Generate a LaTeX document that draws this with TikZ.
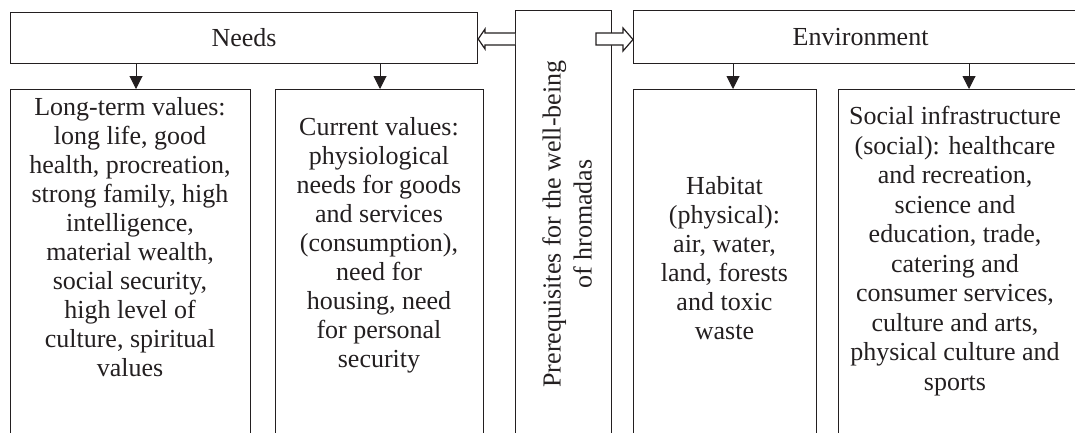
\documentclass[tikz,border=0pt]{standalone}
\usepackage{fontspec}
\setmainfont{Liberation Serif}
\usetikzlibrary{arrows.meta,calc}
\definecolor{ink}{HTML}{231F20}
\begin{document}
\begin{tikzpicture}[x=1pt,y=-1pt,
  box/.style={draw=ink, line width=1.2pt, rectangle, inner sep=0pt, anchor=north west},
  txt/.style={text=ink, align=center, font=\fontsize{26}{29}\selectfont, inner sep=0pt},
  darr/.style={draw=ink, line width=1pt, -{Triangle[length=13pt,width=13pt]}},
  hollow/.style={draw=ink, line width=1.2pt, fill=white, line join=miter}]
\useasboundingbox (0,0) rectangle (1075,432);
\clip (0,0) rectangle (1075,432);

% top boxes
\node[box, minimum width=467pt, minimum height=51pt] (needs) at (10,12) {};
\node[txt] (needst) at (needs.center) {Needs};
\node[box, minimum width=454pt, minimum height=53pt] (env) at (633,10) {};
\node[txt] (envt) at (env.center) {Environment};

% middle box
\node[box, minimum width=96pt, minimum height=440pt] (mid) at (515,10) {};
\node[txt, rotate=90, font=\fontsize{26}{31}\selectfont] (midt) at (567,224) {Prerequisites for the well-being\\of hromadas};

% lower boxes
\node[box, minimum width=240pt, minimum height=360pt] (lt) at (10,89) {};
\node[box, minimum width=208pt, minimum height=360pt] (cur) at (275,89) {};
\node[box, minimum width=183pt, minimum height=360pt] (hab) at (633,89) {};
\node[box, minimum width=245pt, minimum height=360pt] (soc) at (838,89) {};

\node[txt] (ltt) at (130,237) {Long-term values:\\long life, good\\health, procreation,\\strong family, high\\intelligence,\\material wealth,\\social security,\\high level of\\culture, spiritual\\values};
\node[txt] (curt) at (379,245) {Current values:\\physiological\\needs for goods\\and services\\(consumption),\\need for\\housing, need\\for personal\\security};
\node[txt] (habt) at (724.5,258) {Habitat\\(physical):\\air, water,\\land, forests\\and toxic\\waste};
\node[txt, font=\fontsize{26}{29.5}\selectfont] (soct) at (955,251) {Social infrastructure\\(social): healthcare\\and recreation,\\science and\\education, trade,\\catering and\\consumer services,\\culture and arts,\\physical culture and\\sports};

% down arrows
\draw[darr] (136,0 |- needs.south) -- (136,0 |- lt.north);
\draw[darr] (380,0 |- needs.south) -- (380,0 |- cur.north);
\draw[darr] (733,0 |- env.south) -- (733,0 |- hab.north);
\draw[darr] (969,0 |- env.south) -- (969,0 |- soc.north);

% hollow arrows
\draw[hollow] (mid.west |- 0,33) -- (485,33) -- (485,29) -- (needs.east |- 0,39) -- (485,49) -- (485,45) -- (mid.west |- 0,45);
\draw[hollow] (596,33) -- (623,33) -- (623,28) -- (env.west |- 0,39.5) -- (623,51) -- (623,45) -- (596,45) -- cycle;
\end{tikzpicture}
\end{document}
